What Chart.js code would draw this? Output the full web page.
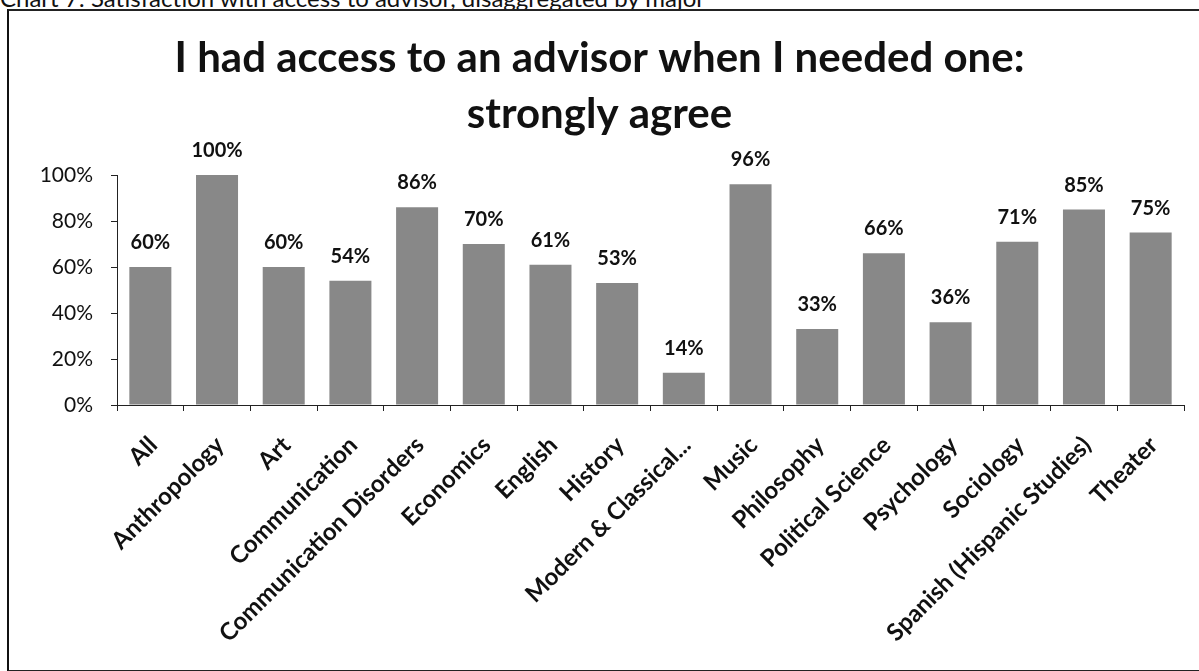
<!DOCTYPE html>
<html>
<head>
<meta charset="utf-8">
<script src="https://cdn.jsdelivr.net/npm/chart.js@4.4.1/dist/chart.umd.min.js"></script>
<style>
  html, body { margin: 0; padding: 0; background: #fff; overflow: hidden; }
  #wrap { position: relative; width: 1199px; height: 671px; }
  #header { position: absolute; left: 0; top: -17px; font-family: Lato, "Open Sans", sans-serif; font-size: 24px; color: #111; white-space: nowrap; }
  #frame { position: absolute; left: 7px; top: 9px; width: 1300px; height: 659px; border-left: 2px solid #111; border-top: 2px solid #222; border-bottom: 2px solid #222; pointer-events: none; }
  canvas { position: absolute; left: 0; top: 0; }
</style>
</head>
<body>
<div id="wrap">
  <div id="header">Chart 7: Satisfaction with access to advisor, disaggregated by major</div>
  <div id="frame"></div>
  <canvas id="c" width="1199" height="671"></canvas>
</div>
<script>
const categories = ["All", "Anthropology", "Art", "Communication", "Communication Disorders", "Economics", "English", "History", "Modern & Classical...", "Music", "Philosophy", "Political Science", "Psychology", "Sociology", "Spanish (Hispanic Studies)", "Theater"];
const strongly_agree = [60, 100, 60, 54, 86, 70, 61, 53, 14, 96, 33, 66, 36, 71, 85, 75];
const yTicks = [0, 20, 40, 60, 80, 100];
const titleLines = ["I had access to an advisor when I needed one:", "strongly agree"];

const FONT = 'Lato, "Open Sans", sans-serif';

const titleText = {
  id: 'titleText',
  afterDraw(chart) {
    const ctx = chart.ctx;
    ctx.save();
    ctx.font = 'bold 42px ' + FONT;
    ctx.fillStyle = '#111';
    ctx.textAlign = 'center';
    ctx.textBaseline = 'alphabetic';
    const cx = chart.width / 2;
    const baselines = [72, 128];
    titleLines.forEach((t, i) => ctx.fillText(t, cx, baselines[i]));
    ctx.restore();
  }
};

const valueLabels = {
  id: 'valueLabels',
  afterDatasetsDraw(chart) {
    const ctx = chart.ctx;
    const meta = chart.getDatasetMeta(0);
    ctx.save();
    ctx.font = 'bold 20px ' + FONT;
    ctx.fillStyle = '#111';
    ctx.textAlign = 'center';
    ctx.textBaseline = 'alphabetic';
    meta.data.forEach((bar, i) => {
      ctx.fillText(strongly_agree[i] + '%', bar.x, bar.y - 18);
    });
    ctx.restore();
  }
};

new Chart(document.getElementById('c'), {
  type: 'bar',
  data: {
    labels: categories,
    datasets: [{
      data: strongly_agree,
      backgroundColor: '#888888',
      borderWidth: 0,
      barPercentage: 0.63,
      categoryPercentage: 1.0
    }]
  },
  options: {
    responsive: false,
    animation: false,
    events: [],
    layout: { padding: { left: 0, right: 15, top: 175, bottom: 0 } },
    plugins: {
      legend: { display: false },
      tooltip: { enabled: false },
      title: { display: false }
    },
    scales: {
      x: {
        afterFit(scale) { scale.height = 266; },
        grid: { display: true, drawOnChartArea: false, drawTicks: true, tickLength: 6, tickColor: '#222', offset: true },
        border: { display: true, color: '#222', width: 1 },
        ticks: {
          autoSkip: false, maxRotation: 45, minRotation: 45, padding: 20, labelOffset: 3,
          color: '#111',
          font: { family: FONT, size: 24, weight: 'bold' }
        }
      },
      y: {
        min: 0, max: 100,
        afterFit(scale) { scale.width = 117; },
        afterBuildTicks(scale) { scale.ticks = yTicks.map(v => ({ value: v })); },
        grid: { display: true, drawOnChartArea: false, drawTicks: true, tickLength: 6, tickColor: '#222' },
        border: { display: true, color: '#222', width: 1 },
        ticks: {
          padding: 18, color: '#111',
          font: { family: FONT, size: 21 },
          callback: (v) => v + '%'
        }
      }
    }
  },
  plugins: [valueLabels, titleText]
});
</script>
</body>
</html>
